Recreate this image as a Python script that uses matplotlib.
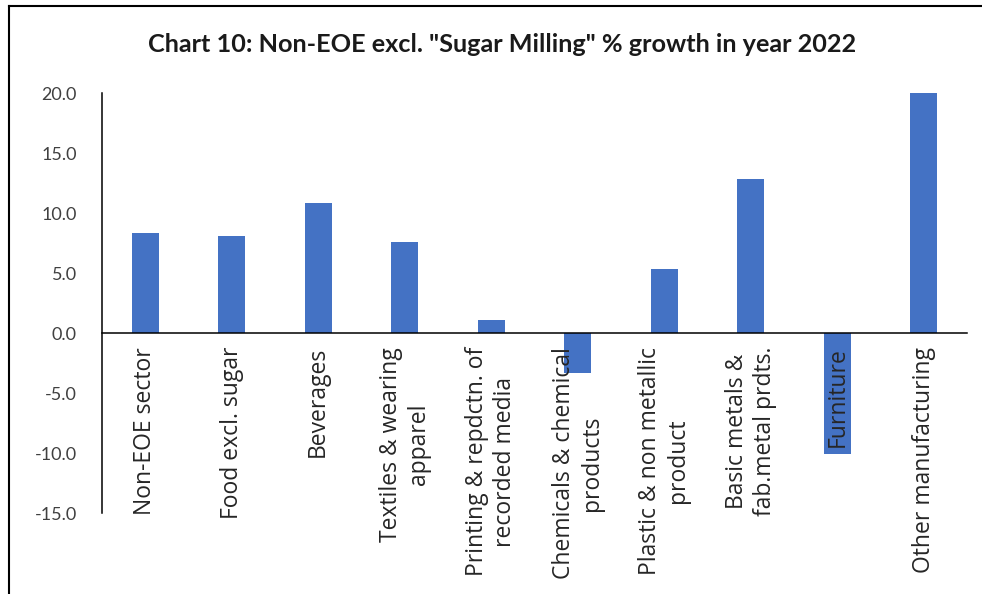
import matplotlib
matplotlib.use('Agg')
import matplotlib.pyplot as plt
import matplotlib.lines as mlines

# Data
categories = ['Non-EOE sector', 'Food excl. sugar', 'Beverages', 'Textiles & wearing\napparel',
              'Printing & repdctn. of\nrecorded media', 'Chemicals & chemical\nproducts',
              'Plastic & non metallic\nproduct', 'Basic metals &\nfab.metal prdts.', 'Furniture',
              'Other manufacturing']
growth = [8.3, 8.1, 10.8, 7.6, 1.1, -3.3, 5.3, 12.8, -10.1, 20.0]
yticks = [-15, -10, -5, 0, 5, 10, 15, 20]

fig = plt.figure(figsize=(9.82, 5.94), dpi=100)
ax = fig.add_axes([102 / 982, 1 - 513 / 594, 865 / 982, 420 / 594])

x = range(len(categories))
ax.bar(x, growth, width=0.31, color='#4472C4', zorder=1)

ax.set_xlim(-0.5, len(categories) - 0.5)
ax.set_ylim(-15, 20)
ax.set_yticks(yticks)
ax.set_yticklabels([f'{v:.1f}' for v in yticks], fontsize=13, color='#404040', family='Lato')
ax.tick_params(axis='y', length=0, pad=18)

# Category axis sits on the zero line
ax.spines['bottom'].set_position(('data', 0))
ax.spines['top'].set_visible(False)
ax.spines['right'].set_visible(False)
for s in ['left', 'bottom']:
    ax.spines[s].set_color('black')
    ax.spines[s].set_linewidth(1.1)
ax.set_xticks(list(x))
ax.set_xticklabels(categories, rotation=90, fontsize=16.5, family='Open Sans',
                   color='#262626', va='top', ha='center', multialignment='center',
                   linespacing=1.2)
ax.tick_params(axis='x', length=0, pad=10)
for lbl in ax.get_xticklabels():
    lbl.set_zorder(5)

fig.text(502 / 982, 1 - 45 / 594, 'Chart 10: Non-EOE excl. "Sugar Milling" % growth in year 2022',
         ha='center', va='center', fontsize=18.2, fontweight='bold', family='Lato', color='#1a1a1a')

# Outer frame (only left and top edges visible in the crop)
fig.add_artist(mlines.Line2D([8.5 / 982, 8.5 / 982], [0, 1 - 6 / 594], color='black', lw=1.5,
                             transform=fig.transFigure))
fig.add_artist(mlines.Line2D([8.5 / 982, 1], [1 - 6 / 594, 1 - 6 / 594], color='black', lw=1.5,
                             transform=fig.transFigure))

fig.savefig('out.png', dpi=100)
